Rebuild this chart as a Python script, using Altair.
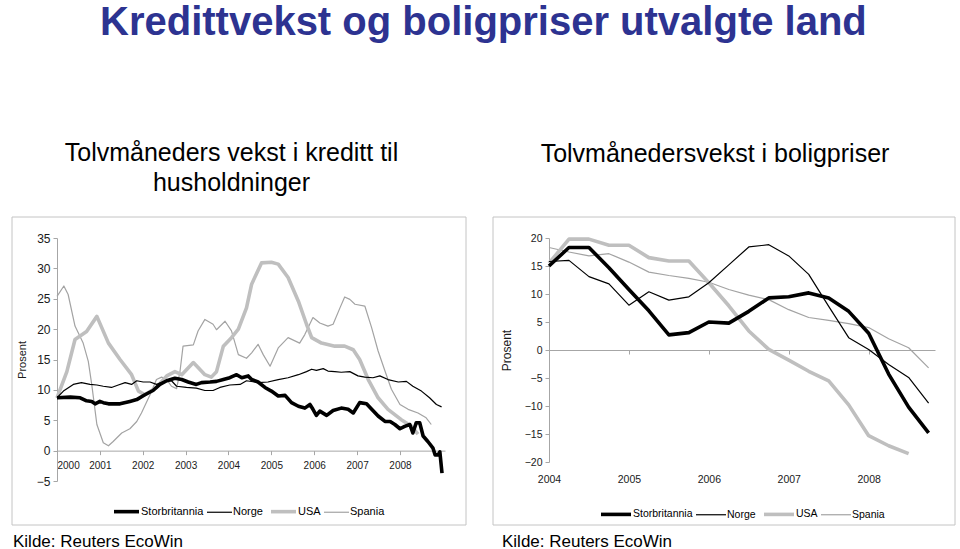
import altair as alt
import pandas as pd

FONT = "Liberation Sans"
BLUE = "#2d3391"
GRAY = "#a6a6a6"
BOX = "#c4c4c4"

SERIES = ["Storbritannia", "Norge", "USA", "Spania"]
LINE_COLORS = ["#000000", "#000000", "#bfbfbf", "#a3a3a3"]
LINE_WIDTHS = [3.6, 1.2, 3.6, 1.2]
DRAW_ORDER = ["Spania", "USA", "Norge", "Storbritannia"]

TITLE = "Kredittvekst og boligpriser utvalgte land"
SUB_LEFT = ["Tolvmåneders vekst i kreditt til", "husholdninger"]
SUB_RIGHT = ["Tolvmånedersvekst i boligpriser"]
SOURCE = "Kilde: Reuters EcoWin"
Y_TITLE = "Prosent"

LEFT_YEARS = [2000, 2001, 2002, 2003, 2004, 2005, 2006, 2007, 2008]
LEFT_Y_TICKS = [-5, 0, 5, 10, 15, 20, 25, 30, 35]
RIGHT_YEARS = [2004, 2005, 2006, 2007, 2008]
RIGHT_Y_TICKS = [-20, -15, -10, -5, 0, 5, 10, 15, 20]

# ---- Left panel: credit growth (percent) ----
uk_credit_t = [2000.0, 2000.31, 2000.54, 2000.69, 2000.81, 2000.89, 2001.0, 2001.08, 2001.2, 2001.47,
               2001.7, 2001.86, 2002.05, 2002.24, 2002.4, 2002.56, 2002.75, 2002.91, 2003.06, 2003.25,
               2003.37, 2003.57, 2003.72, 2003.88, 2004.03, 2004.19, 2004.31, 2004.46, 2004.54, 2004.69,
               2004.85, 2005.0, 2005.16, 2005.32, 2005.47, 2005.63, 2005.78, 2005.9, 2005.97, 2006.05,
               2006.13, 2006.29, 2006.44, 2006.63, 2006.79, 2006.91, 2007.06, 2007.22, 2007.34, 2007.49,
               2007.65, 2007.77, 2007.88, 2008.0, 2008.11, 2008.23, 2008.3, 2008.38, 2008.46, 2008.54,
               2008.65, 2008.77, 2008.82, 2008.89, 2008.93, 2008.98]
uk_credit_v = [8.7, 8.8, 8.7, 8.2, 8.1, 7.7, 8.1, 7.9, 7.7, 7.7,
               8.1, 8.4, 9.2, 9.9, 10.9, 11.5, 11.9, 11.7, 11.3, 10.9,
               11.2, 11.3, 11.4, 11.7, 12.0, 12.5, 12.0, 12.3, 11.7, 11.3,
               10.4, 9.8, 9.0, 9.1, 7.9, 7.3, 7.0, 7.6, 6.8, 5.8,
               6.5, 5.8, 6.6, 7.0, 6.8, 6.2, 7.9, 7.7, 6.8, 5.7,
               4.8, 4.8, 4.3, 3.6, 4.0, 4.3, 2.9, 4.6, 4.6, 2.4,
               1.5, 0.4, -0.7, -0.7, -0.2, -3.7]

no_credit_t = [2000.0, 2000.15, 2000.38, 2000.57, 2000.77, 2000.93, 2001.08, 2001.27, 2001.43, 2001.59,
               2001.74, 2001.86, 2002.01, 2002.17, 2002.32, 2002.52, 2002.67, 2002.79, 2003.02, 2003.25,
               2003.45, 2003.64, 2003.8, 2004.03, 2004.27, 2004.42, 2004.69, 2004.92, 2005.16, 2005.39,
               2005.63, 2005.82, 2005.94, 2006.05, 2006.21, 2006.32, 2006.48, 2006.63, 2006.83, 2007.02,
               2007.18, 2007.37, 2007.53, 2007.72, 2007.96, 2008.15, 2008.3, 2008.5, 2008.69, 2008.85,
               2008.97]
no_credit_v = [8.7, 9.8, 10.9, 11.2, 10.9, 10.8, 10.6, 10.4, 10.8, 11.2,
               10.9, 11.5, 11.3, 11.3, 10.9, 11.4, 11.5, 10.6, 10.4, 10.3,
               9.9, 9.9, 10.4, 10.8, 10.9, 11.5, 11.2, 11.3, 11.7, 12.0,
               12.5, 13.0, 13.4, 13.2, 13.5, 13.1, 13.0, 12.9, 13.0, 12.3,
               12.1, 12.0, 12.3, 11.7, 11.3, 11.4, 10.6, 9.8, 8.7, 7.6,
               7.2]

us_credit_t = [2000.0, 2000.23, 2000.42, 2000.69, 2000.93, 2001.2, 2001.47, 2001.74, 2001.9, 2002.05,
               2002.32, 2002.56, 2002.75, 2002.91, 2003.18, 2003.45, 2003.6, 2003.72, 2003.88, 2004.07,
               2004.23, 2004.42, 2004.54, 2004.77, 2005.0, 2005.16, 2005.39, 2005.63, 2005.82, 2005.94,
               2006.17, 2006.48, 2006.71, 2006.91, 2007.06, 2007.26, 2007.49, 2007.72, 2008.03, 2008.27,
               2008.42]
us_credit_v = [8.7, 13.0, 18.3, 19.6, 22.1, 17.7, 15.0, 12.5, 9.8, 9.2,
               10.4, 12.3, 13.0, 12.5, 14.5, 12.5, 12.1, 13.0, 17.2, 18.6,
               20.0, 23.5, 27.4, 30.9, 31.0, 30.7, 28.5, 24.6, 20.8, 18.6,
               17.7, 17.2, 17.2, 16.6, 15.0, 11.7, 8.7, 6.8, 5.1, 4.0,
               2.7]

es_credit_t = [2000.0, 2000.16, 2000.26, 2000.42, 2000.61, 2000.73, 2000.81, 2000.93, 2001.08, 2001.2,
               2001.31, 2001.51, 2001.7, 2001.86, 2001.97, 2002.17, 2002.32, 2002.44, 2002.56, 2002.67,
               2002.79, 2002.87, 2002.94, 2003.18, 2003.29, 2003.45, 2003.64, 2003.72, 2003.92, 2004.07,
               2004.23, 2004.42, 2004.54, 2004.69, 2004.81, 2004.97, 2005.16, 2005.39, 2005.66, 2005.78,
               2005.97, 2006.13, 2006.32, 2006.44, 2006.6, 2006.71, 2006.83, 2006.95, 2007.18, 2007.34,
               2007.49, 2007.65, 2007.8, 2008.0, 2008.19, 2008.42, 2008.61, 2008.73]
es_credit_v = [25.4, 27.1, 25.7, 20.5, 17.7, 14.7, 10.9, 4.3, 1.3, 0.8,
               1.5, 2.9, 3.6, 4.8, 6.2, 9.2, 11.7, 12.1, 11.7, 10.6,
               10.2, 13.1, 17.2, 17.4, 19.7, 21.6, 20.8, 19.9, 21.3, 19.7,
               15.8, 15.2, 16.1, 17.5, 15.8, 13.9, 16.9, 18.6, 17.7, 19.1,
               21.9, 21.0, 20.5, 20.8, 23.5, 25.3, 24.9, 24.1, 23.8, 20.2,
               16.4, 13.1, 10.1, 7.6, 6.8, 6.2, 5.4, 4.3]

# ---- Right panel: house price growth (percent), quarterly ----
quarters = [2004.0, 2004.25, 2004.5, 2004.75, 2005.0, 2005.25, 2005.5, 2005.75, 2006.0, 2006.25,
            2006.5, 2006.75, 2007.0, 2007.25, 2007.5, 2007.75, 2008.0, 2008.25, 2008.5, 2008.75]
uk_house = [15.0, 18.3, 18.3, 14.7, 10.8, 7.0, 2.7, 3.1, 5.0, 4.8,
            6.9, 9.3, 9.5, 10.2, 9.3, 6.9, 3.0, -4.3, -10.2, -14.8]
no_house = [15.8, 16.0, 13.1, 11.8, 8.0, 10.4, 8.9, 9.5, 12.0, 15.2,
            18.4, 18.8, 16.8, 13.5, 7.8, 2.2, 0.1, -2.6, -4.9, -9.5]
us_house = [15.5, 19.8, 19.8, 18.7, 18.7, 16.5, 15.9, 15.9, 12.0, 7.9,
            3.4, 0.1, -1.8, -3.8, -5.5, -9.8, -15.3, -17.1, -18.5]
es_house = [18.3, 17.5, 16.8, 17.2, 15.7, 13.9, 13.3, 12.8, 12.1, 10.8,
            9.8, 9.0, 7.2, 5.8, 5.3, 4.7, 4.0, 2.0, 0.4, -3.2]


def long_df(series):
    rows = []
    for name in DRAW_ORDER:
        ts, vs = series[name]
        for a, b in zip(ts, vs):
            rows.append({"serie": name, "tid": a, "verdi": b})
    return pd.DataFrame(rows)


left_df = long_df({
    "Storbritannia": (uk_credit_t, uk_credit_v),
    "Norge": (no_credit_t, no_credit_v),
    "USA": (us_credit_t, us_credit_v),
    "Spania": (es_credit_t, es_credit_v),
})
right_df = long_df({
    "Storbritannia": (quarters, uk_house),
    "Norge": (quarters, no_house),
    "USA": (quarters, us_house),
    "Spania": (quarters, es_house),
})


def text_df(s):
    return pd.DataFrame({"label": [s]})


def legend(x, y, size, fs):
    return alt.Legend(orient="none", legendX=x, legendY=y, direction="horizontal", title=None,
                      symbolType="stroke", symbolSize=size, labelFontSize=fs, labelColor="#000000",
                      labelFont=FONT, columnPadding=0, labelOffset=0)


def lines(df, xdom, xaxis, ydom, yaxis, leg):
    return alt.Chart(df).mark_line(strokeJoin="round").encode(
        x=alt.X("tid:Q", scale=alt.Scale(domain=xdom, nice=False, zero=False), axis=xaxis),
        y=alt.Y("verdi:Q", scale=alt.Scale(domain=ydom, nice=False, zero=False), axis=yaxis),
        color=alt.Color("serie:N", scale=alt.Scale(domain=SERIES, range=LINE_COLORS), legend=leg),
        strokeWidth=alt.StrokeWidth("serie:N", scale=alt.Scale(type="ordinal", domain=SERIES, range=LINE_WIDTHS), legend=leg),
    )


def rect(x, x2, y, y2, **kw):
    return alt.Chart(text_df("")).mark_rect(**kw).encode(
        x=alt.value(x), x2=alt.value(x2), y=alt.value(y), y2=alt.value(y2))


def label(s, x, y, color="#000000", **kw):
    return alt.Chart(text_df(s)).mark_text(font=FONT, color=color, **kw).encode(
        x=alt.value(x), y=alt.value(y), text="label:N")


# ---------- left ----------
W1, H1 = 388, 243
left_x_axis = alt.Axis(values=LEFT_YEARS, format="d", offset=-H1 * 5 / 40, tickSize=4, labelPadding=6,
                       labelFontSize=10, labelFlush=True, title=None, grid=False,
                       domainColor=GRAY, tickColor=GRAY)
left_y_axis = alt.Axis(values=LEFT_Y_TICKS, tickSize=4, labelPadding=3, labelFontSize=12,
                       title=Y_TITLE, titleFontSize=11, titleFontWeight="normal", titlePadding=9,
                       grid=False, domainColor=GRAY, tickColor=GRAY)
left = alt.layer(
    rect(-57, 903, -238, 311, opacity=0, strokeWidth=0),
    rect(-45, 409, -21, 287, fill="white", fillOpacity=0, stroke=BOX, strokeWidth=1),
    lines(left_df, [2000, 2009.05], left_x_axis, [-5, 35], left_y_axis, legend(55, 259, 625, 11)),
    label(TITLE, 43, -203.5, color=BLUE, align="left", baseline="alphabetic", fontSize=40, fontWeight="bold"),
    label("\n".join(SUB_LEFT), 174.5, -77, align="center", baseline="alphabetic", fontSize=25,
          lineBreak="\n", lineHeight=30),
    label(SOURCE, -44, 308.5, align="left", baseline="alphabetic", fontSize=17),
).properties(width=W1, height=H1)

# ---------- right ----------
W2, H2 = 386, 224
right_x_axis = alt.Axis(values=RIGHT_YEARS, format="d", offset=-H2 * 20 / 40, tickSize=4, labelPadding=120,
                        labelFontSize=10.5, labelFlush=False, title=None, grid=False,
                        domainColor=GRAY, tickColor=GRAY)
right_y_axis = alt.Axis(values=RIGHT_Y_TICKS, tickSize=4, labelPadding=3, labelFontSize=10.5,
                        title=Y_TITLE, titleFontSize=12, titleFontWeight="normal", titlePadding=11,
                        grid=False, domainColor=GRAY, tickColor=GRAY)
right = alt.layer(
    rect(-56, 406, -21, 287, fill="white", fillOpacity=0, stroke=BOX, strokeWidth=1),
    lines(right_df, [2004, 2008.83], right_x_axis, [-20, 20], right_y_axis, legend(50, 259, 900, 10.5)),
    label("\n".join(SUB_RIGHT), 166, -76.3, align="center", baseline="alphabetic", fontSize=25),
    label(SOURCE, -47, 308.5, align="left", baseline="alphabetic", fontSize=17),
).properties(width=W2, height=H2)

chart = alt.hconcat(left, right, spacing=104, bounds="flush", padding=0).resolve_scale(
    x="independent", y="independent", color="independent", strokeWidth="independent"
).configure(font=FONT, background="white").configure_view(stroke=None).configure_axis(
    labelColor="#1a1a1a", titleColor="#1a1a1a", labelFont=FONT, titleFont=FONT
)

chart.save("out.html", embed_options={"renderer": "svg", "actions": False})
